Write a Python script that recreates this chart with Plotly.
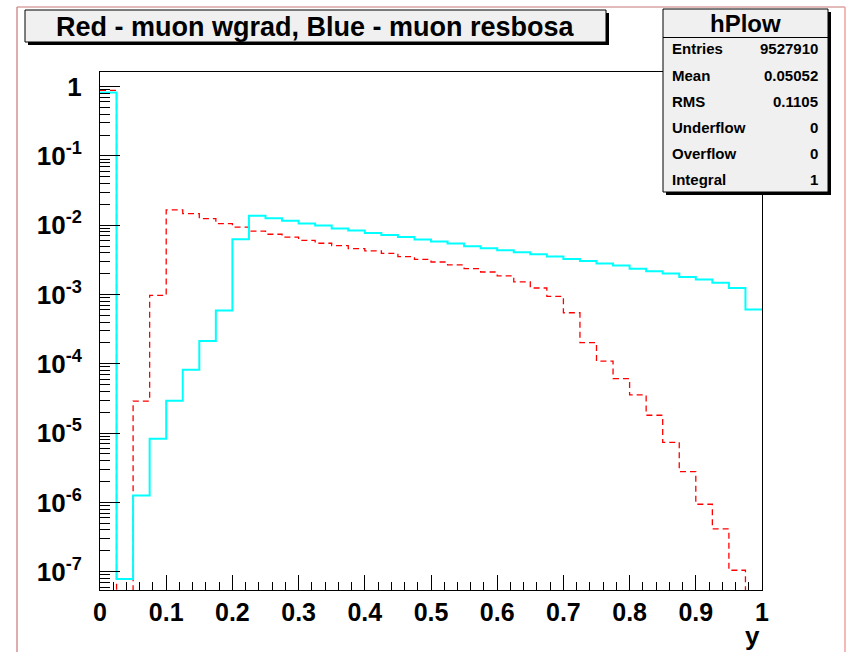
import plotly.graph_objects as go

# ---------------- data ----------------
bin_edges = [round(0.025 * i, 3) for i in range(41)]

# Red - muon wgrad (dashed)
red_vals = [0.88, 0.0, 2.9e-5, 9.7e-4, 1.66e-2, 1.47e-2, 1.24e-2, 1.05e-2, 9.4e-3, 8.2e-3,
            7.4e-3, 6.7e-3, 6.05e-3, 5.48e-3, 5.08e-3, 4.6e-3, 4.25e-3, 3.93e-3, 3.52e-3, 3.22e-3,
            2.94e-3, 2.67e-3, 2.36e-3, 2.11e-3, 1.85e-3, 1.52e-3, 1.24e-3, 9.4e-4, 5.45e-4, 2.02e-4,
            1.09e-4, 6.1e-5, 3.55e-5, 1.81e-5, 7.36e-6, 2.78e-6, 9.4e-7, 4.14e-7, 1.05e-7, 0.0]

# Blue - muon resbosa (cyan)
cyan_vals = [0.82, 7.85e-8, 1.26e-6, 8.3e-6, 2.94e-5, 8.2e-5, 2.13e-4, 5.86e-4, 6.25e-3, 1.37e-2,
             1.26e-2, 1.16e-2, 1.06e-2, 9.86e-3, 8.93e-3, 8.36e-3, 7.73e-3, 7.23e-3, 6.76e-3, 6.19e-3,
             5.8e-3, 5.42e-3, 4.96e-3, 4.64e-3, 4.35e-3, 4.08e-3, 3.8e-3, 3.52e-3, 3.25e-3, 3.05e-3,
             2.79e-3, 2.61e-3, 2.36e-3, 2.16e-3, 2.0e-3, 1.79e-3, 1.64e-3, 1.48e-3, 1.24e-3, 6.05e-4]

title_text = "Red - muon wgrad, Blue - muon resbosa"
stats_name = "hPlow"
stats_labels = ["Entries", "Mean", "RMS", "Underflow", "Overflow", "Integral"]
stats_values = ["9527910", "0.05052", "0.1105", "0", "0", "1"]

y_tick_vals = [1e-7, 1e-6, 1e-5, 1e-4, 1e-3, 1e-2, 1e-1, 1]
y_tick_text = ["10<sup>-7</sup>", "10<sup>-6</sup>", "10<sup>-5</sup>", "10<sup>-4</sup>",
               "10<sup>-3</sup>", "10<sup>-2</sup>", "10<sup>-1</sup>", "1"]
x_tick_vals = [0, 0.1, 0.2, 0.3, 0.4, 0.5, 0.6, 0.7, 0.8, 0.9, 1]
x_tick_text = ["0", "0.1", "0.2", "0.3", "0.4", "0.5", "0.6", "0.7", "0.8", "0.9", "1"]

# ---------------- layout geometry ----------------
W, H = 846, 652
L, R, T, B = 100, 84, 72, 62
PW, PH = W - L - R, H - T - B
YMIN_LOG, YMAX_LOG = -7.264, 0.21
FLOOR = 10 ** (YMIN_LOG - 1)


def px(x):
    return (x - L) / PW


def py(y):
    return (H - B - y) / PH


def step_xy(vals):
    ys = [v if v > 0 else FLOOR for v in vals]
    return bin_edges, ys + [ys[-1]]


FONT = "Liberation Sans, Arial, Helvetica, sans-serif"

fig = go.Figure()
xr, yr = step_xy(red_vals)
fig.add_trace(go.Scatter(x=xr, y=yr, mode="lines", line_shape="hv",
                         line=dict(color="#ff0000", width=1.3, dash="6px,4px"),
                         showlegend=False, hoverinfo="skip"))
xc, yc = step_xy(cyan_vals)
fig.add_trace(go.Scatter(x=xc, y=yc, mode="lines", line_shape="hv",
                         line=dict(color="#00ffff", width=2),
                         showlegend=False, hoverinfo="skip"))

shapes = []
annotations = []

# canvas border
shapes.append(dict(type="line", xref="paper", yref="paper", x0=px(17), x1=px(17), y0=py(7), y1=py(700),
                   line=dict(color="#c87878", width=1.2)))
shapes.append(dict(type="line", xref="paper", yref="paper", x0=px(17), x1=px(845), y0=py(7), y1=py(7),
                   line=dict(color="#c87878", width=1.2)))
shapes.append(dict(type="line", xref="paper", yref="paper", x0=px(845), x1=px(845), y0=py(7), y1=py(700),
                   line=dict(color="#f4a0a0", width=1.5)))


def boxed(x0, y0, x1, y1):
    # shadow
    shapes.append(dict(type="rect", xref="paper", yref="paper", x0=px(x0 + 3), x1=px(x1 + 3),
                       y0=py(y0 + 3), y1=py(y1 + 3), fillcolor="black", line=dict(width=0)))
    shapes.append(dict(type="rect", xref="paper", yref="paper", x0=px(x0), x1=px(x1),
                       y0=py(y0), y1=py(y1), fillcolor="#f0f0f0", line=dict(color="black", width=1)))


# title box
boxed(25, 10, 606, 42)
annotations.append(dict(xref="paper", yref="paper", x=px(315.5), y=py(27), text=title_text,
                        showarrow=False, xanchor="center", yanchor="middle",
                        font=dict(family=FONT, size=27, color="black", weight="bold")))

# stats box
boxed(663, 9, 828, 192)
shapes.append(dict(type="line", xref="paper", yref="paper", x0=px(663), x1=px(828), y0=py(37.5), y1=py(37.5),
                   line=dict(color="black", width=1)))
annotations.append(dict(xref="paper", yref="paper", x=px(745.5), y=py(23), text=stats_name,
                        showarrow=False, xanchor="center", yanchor="middle",
                        font=dict(family=FONT, size=24, color="black", weight="bold")))
for i, (lab, val) in enumerate(zip(stats_labels, stats_values)):
    yy = py(49 + 26 * i)
    annotations.append(dict(xref="paper", yref="paper", x=px(670), y=yy, text=lab, showarrow=False,
                            xanchor="left", yanchor="middle",
                            font=dict(family=FONT, size=15, color="black", weight="bold")))
    annotations.append(dict(xref="paper", yref="paper", x=px(820), y=yy, text=val, showarrow=False,
                            xanchor="right", yanchor="middle",
                            font=dict(family=FONT, size=15, color="black", weight="bold")))

# x axis title
annotations.append(dict(xref="paper", yref="paper", x=px(762), y=py(636), text="y", showarrow=False,
                        xanchor="right", yanchor="middle",
                        font=dict(family=FONT, size=26, color="black", weight="bold")))

fig.update_layout(
    width=W, height=H, autosize=False,
    margin=dict(l=L, r=R, t=T, b=B, pad=0),
    paper_bgcolor="white", plot_bgcolor="white",
    shapes=shapes, annotations=annotations,
    xaxis=dict(range=[0, 1], showgrid=False, zeroline=False, showline=True, linecolor="black",
               linewidth=1, mirror=True, ticks="inside", ticklen=15, tickcolor="black", tickwidth=1,
               tickvals=x_tick_vals, ticktext=x_tick_text, ticklabelstandoff=0,
               tickfont=dict(family=FONT, size=25, color="black", weight="bold"),
               minor=dict(ticks="inside", ticklen=8, dtick=0.02, tick0=0, tickcolor="black",
                          showgrid=False)),
    yaxis=dict(type="log", range=[YMIN_LOG, YMAX_LOG], showgrid=False, zeroline=False, showline=True,
               linecolor="black", linewidth=1, mirror=True, ticks="inside", ticklen=20,
               tickcolor="black", tickwidth=1, tickvals=y_tick_vals, ticktext=y_tick_text,
               ticklabelstandoff=12,
               tickfont=dict(family=FONT, size=26, color="black", weight="bold"),
               minor=dict(ticks="inside", ticklen=10, dtick="D1", tickcolor="black",
                          showgrid=False)),
)

fig.write_html("out.html")
